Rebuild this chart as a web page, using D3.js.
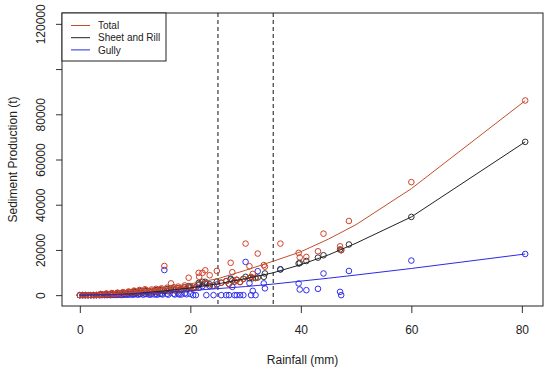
<!DOCTYPE html>
<html>
<head>
<meta charset="utf-8">
<script src="https://cdn.jsdelivr.net/npm/d3@7"></script>
<style>
  body { margin: 0; background: #fff; }
  svg text { font-family: "Liberation Sans", Arial, sans-serif; fill: #222; }
</style>
</head>
<body>
<div id="chart"></div>
<script>
// events: rainfall (mm) and sediment (t) per series
const rainfall = [0, 0.5, 1, 1.5, 2, 2.5, 3, 3.5, 4, 4.5, 5, 5.5, 6, 6.5, 7, 7.5, 8, 8.5, 9, 9.5,
  10, 10.5, 11, 11.5, 12, 12.5, 13, 13.5, 14, 14.5, 15, 15.3, 15.8, 16.5, 17.2, 17.8, 18.4, 19,
  19.7, 20.5, 21, 21.5, 21.6, 22.2, 22.7, 22.9, 23.5, 24.2, 24.8, 25.6, 26.5, 27, 27.3, 27.6, 28, 28.4,
  29, 29.6, 30, 30.7, 31, 31.3, 31.8, 32.2, 33.3, 33.5, 36.3, 39.6, 39.8, 41, 43.1, 44.1, 47.1, 47.3,
  48.7, 60, 80.6,
  3.8, 4.8, 5.8, 6.8, 7.8, 8.8, 9.8, 10.8, 11.8, 12.8, 13.8, 14.8, 16, 17, 18, 19.3, 20]
const totalSed = [0, 0, 0, 0, 0, 0, 50, 100, 300, 200, 400, 300, 600, 500, 800, 600, 1000, 900, 1400, 1100,
  1700, 1300, 2000, 1500, 2200, 1800, 2500, 2000, 1600, 2600, 2200, 12900, 3300, 5200, 2400, 3800, 2800, 4300,
  7700, 3000, 3500, 9850, 8100, 9850, 11000, 5000, 8800, 4200, 10700, 5500, 6200, 5000, 14300, 10150, 6000, 6800,
  5800, 7200, 22800, 12800, 8000, 9400, 7600, 18400, 13300, 12600, 22800, 18700, 16700, 16900, 19400, 27200, 21600, 19900,
  32800, 50000, 86100,
  500, 700, 900, 1100, 1300, 1600, 2000, 2300, 2600, 1500, 2800, 3000, 1900, 3500, 2500, 3000, 4000]
const sheetSed = [0, 0, 0, 0, 0, 0, 50, 100, 250, 200, 350, 300, 500, 450, 650, 550, 800, 750, 1100, 950,
  1300, 1100, 1500, 1300, 1700, 1500, 1900, 1700, 1400, 2100, 1900, 1800, 2700, 3000, 2100, 3100, 2500, 3500,
  4000, 3000, 3500, 5400, 4800, 5900, 5900, 5000, 4800, 4200, 6000, 5500, 6200, 5000, 7000, 6500, 6000, 6800,
  5800, 7200, 8100, 7500, 8000, 7500, 7600, 7800, 8100, 9600, 11350, 14000, 14200, 15100, 16600, 17650, 20200, 19900,
  22400, 34600, 67800,
  450, 600, 800, 950, 1100, 1300, 1600, 1800, 2000, 1300, 2200, 2400, 1700, 2900, 2200, 2600, 3400]
const gullySed = [0, 0, 0, 0, 0, 0, 0, 0, 50, 0, 50, 0, 100, 50, 150, 50, 200, 150, 300, 150,
  400, 200, 500, 200, 500, 300, 600, 300, 200, 500, 300, 11100, 600, 2200, 300, 700, 300, 800,
  3700, 0, 0, 4400, 3300, 4000, 5100, 0, 4000, 0, 4700, 0, 0, 0, 7300, 3650, 0, 0,
  0, 0, 14700, 5300, 0, 1900, 0, 10600, 5200, 3000, 11450, 5170, 2500, 2200, 2800, 9580, 1460, 0,
  10700, 15300, 18200,
  50, 100, 100, 150, 200, 300, 400, 500, 600, 200, 600, 600, 200, 600, 300, 400, 600]

// fitted curves
const fitX = [0, 5, 10, 15, 20, 25, 30, 35, 40, 45, 50, 60, 80.6]
const fitTotal = [0, 300, 1300, 3000, 5000, 7300, 11000, 15000, 19200, 24800, 31200, 47100, 86000]
const fitSheet = [0, 150, 700, 1800, 3200, 5000, 7300, 9900, 13500, 17800, 23000, 34600, 67800]
const fitGully = [0, 150, 500, 1200, 2000, 2900, 3800, 4900, 6200, 7500, 8900, 11800, 18200]

const seriesNames = ["Total", "Sheet and Rill", "Gully"]
const xTicks = [0, 20, 40, 60, 80]
const yTicks = [0, 20000, 40000, 60000, 80000, 100000, 120000]
const dashedAt = [25, 35]

const W = 550, H = 372
const L = 62, T = 13, R = 543, B = 306

const lineColors = ["#c0502c", "#222222", "#2a2ae6"]
const ptColors = ["#d2402a", "#333333", "#2f2ff0"]

let svg = d3.select("#chart").append("svg")
    .attr("width", W).attr("height", H)

let x = d3.scaleLinear().domain([-3.224, 83.824]).range([L, R])
let y = d3.scaleLinear().domain([-4800, 124800]).range([B, T])

// axes
let gx = svg.append("g")
    .attr("transform", `translate(0, ${B})`)
    .call(d3.axisBottom(x).tickValues(xTicks).tickSize(7).tickPadding(12).tickFormat(d3.format("d")))
gx.select(".domain").remove()
gx.selectAll("text").style("font-size", "12px")

let gy = svg.append("g")
    .attr("transform", `translate(${L}, 0)`)
    .call(d3.axisLeft(y).tickValues(yTicks).tickSize(6).tickFormat(d3.format("d")))
gy.select(".domain").remove()
gy.selectAll("text")
    .attr("x", null).attr("dy", null)
    .attr("text-anchor", "middle")
    .attr("transform", "translate(-17, 0) rotate(-90)")
    .style("font-size", "12px")
    .text(d => d == 100000 ? "" : d)

svg.selectAll(".tick line").attr("stroke", "#333")

// titles
svg.append("text")
    .attr("x", (L + R) / 2).attr("y", 364)
    .attr("text-anchor", "middle")
    .style("font-size", "12px")
    .text("Rainfall (mm)")
svg.append("text")
    .attr("transform", `translate(17, ${(T + B) / 2}) rotate(-90)`)
    .attr("text-anchor", "middle")
    .style("font-size", "12px")
    .text("Sediment Production (t)")

// dashed reference lines
svg.selectAll(".ref").data(dashedAt).enter().append("line")
    .attr("x1", d => x(d)).attr("x2", d => x(d))
    .attr("y1", T).attr("y2", B)
    .attr("stroke", "#111").attr("stroke-width", 1)
    .attr("stroke-dasharray", "4,3")

// points
const pointSets = [gullySed, sheetSed, totalSed]
const pointCols = [ptColors[2], ptColors[1], ptColors[0]]
pointSets.forEach((vals, k) => {
    svg.append("g").selectAll("circle")
        .data(vals).enter().append("circle")
        .attr("cx", (d, i) => x(rainfall[i]))
        .attr("cy", d => y(d))
        .attr("r", 2.8)
        .attr("fill", "none")
        .attr("stroke", pointCols[k])
        .attr("stroke-width", 1)
})

// fitted lines
let line = d3.line()
    .x((d, i) => x(fitX[i]))
    .y(d => y(d))
;[fitTotal, fitSheet, fitGully].forEach((vals, k) => {
    svg.append("path")
        .attr("d", line(vals))
        .attr("fill", "none")
        .attr("stroke", lineColors[k])
        .attr("stroke-width", 1)
})

// plot box
svg.append("rect")
    .attr("x", L).attr("y", T)
    .attr("width", R - L).attr("height", B - T)
    .attr("fill", "none").attr("stroke", "#222").attr("stroke-width", 1)

// legend
let lg = svg.append("g")
lg.append("rect")
    .attr("x", L).attr("y", T).attr("width", 104).attr("height", 48)
    .attr("fill", "#fff").attr("stroke", "#222").attr("stroke-width", 1)
seriesNames.forEach((name, i) => {
    let yy = 25.5 + i * 12.2
    lg.append("line")
        .attr("x1", 71).attr("x2", 90).attr("y1", yy).attr("y2", yy)
        .attr("stroke", lineColors[i]).attr("stroke-width", 1)
    lg.append("text")
        .attr("x", 98).attr("y", yy + 3.6)
        .style("font-size", "10px")
        .text(name)
})
</script>
</body>
</html>
